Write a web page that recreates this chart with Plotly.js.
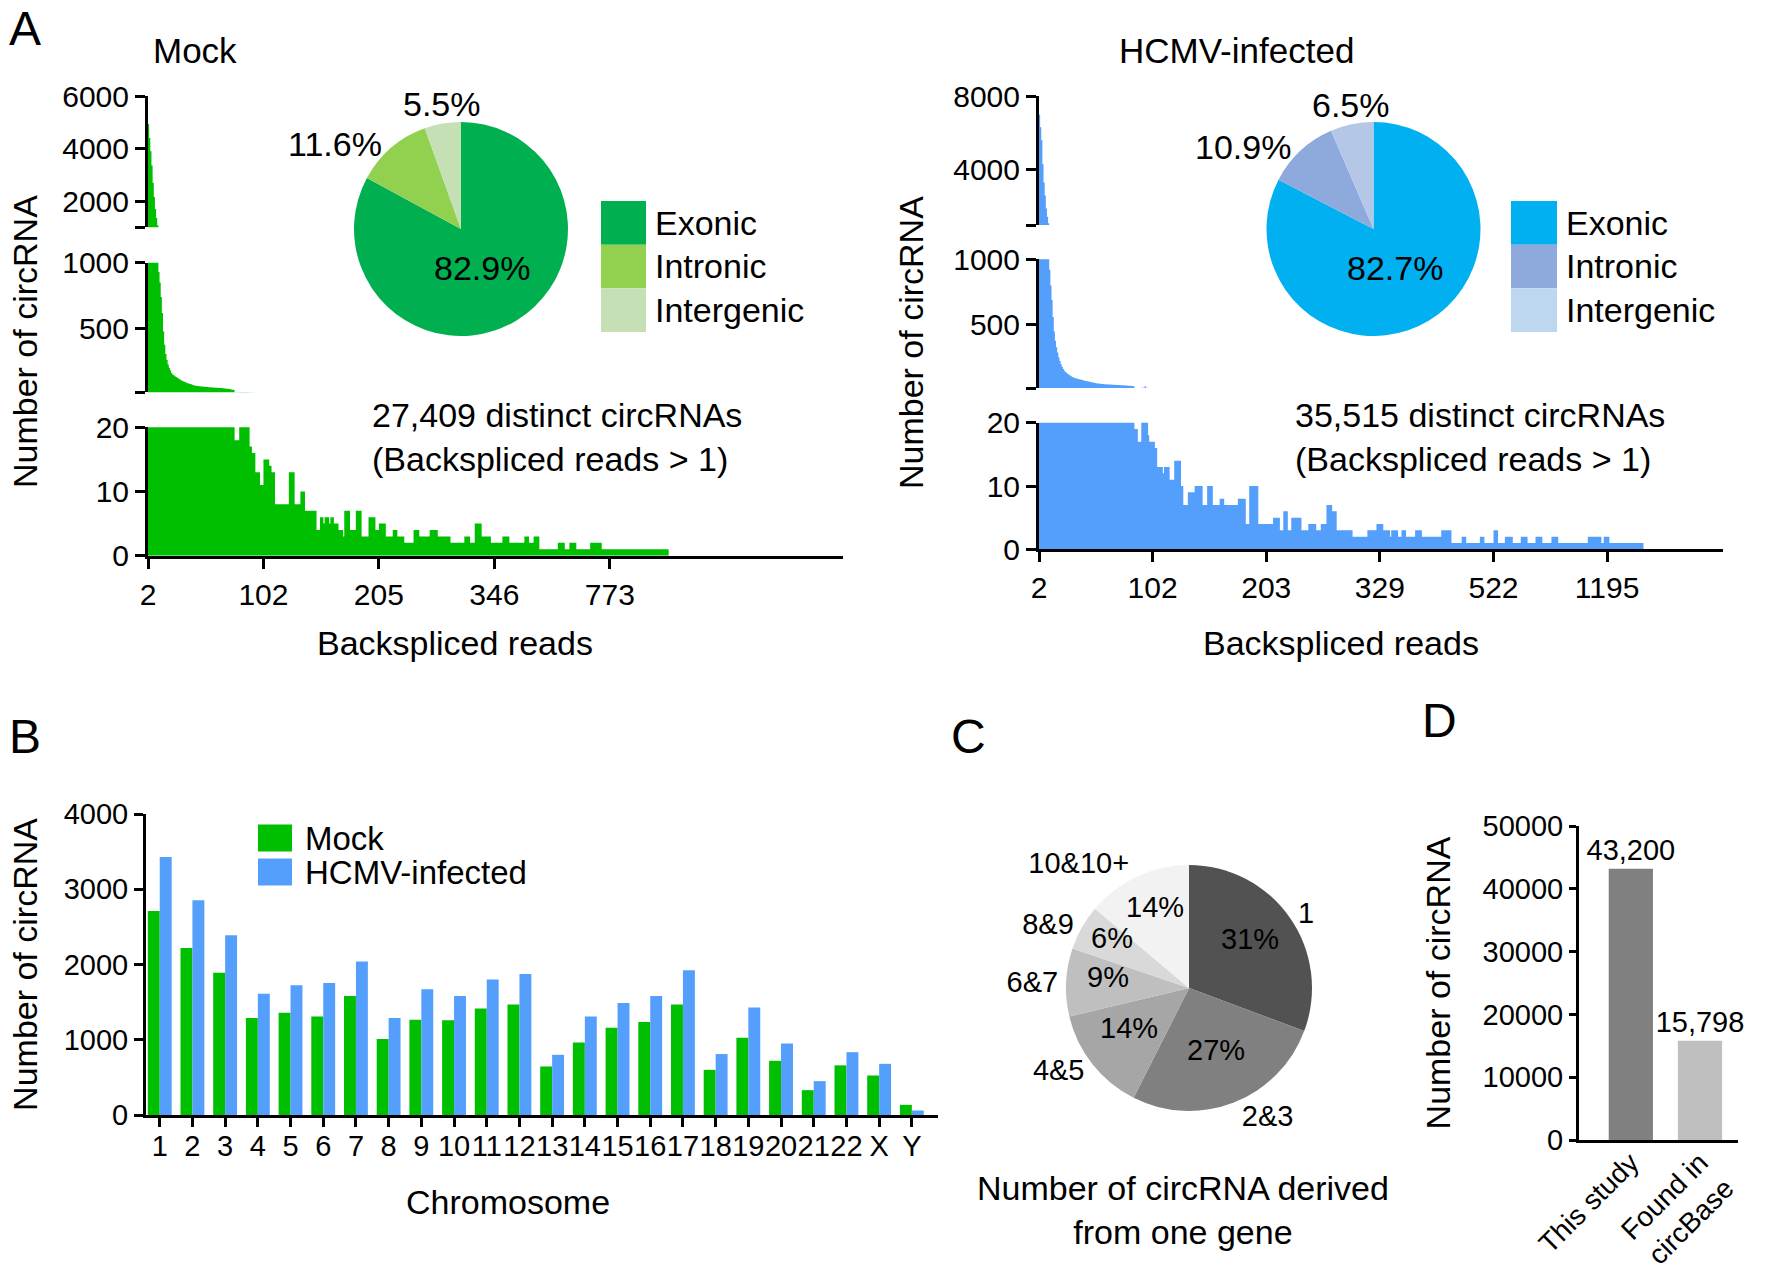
<!DOCTYPE html>
<html><head><meta charset="utf-8">
<script src="https://cdn.plot.ly/plotly-3.0.1.min.js"></script>
<style>html,body{margin:0;padding:0;background:#fff;} #chart{width:1775px;height:1272px;}</style>
</head><body><div id="chart"></div>
<script>
// ===== Panel A : histogram bins (one bin per distinct backspliced-read count, in order) =====
// Mock: first bins read one by one, then the tail as [count, number of consecutive bins]
const mockHeadCounts = [4930,4400,3900,3350,2700,2150,1700,1350,1080,930,
  850,740,620,480,380,310,265,230,205,185,165,155,148,142,136,130,124,118,113,108,
  104,100,96,92,89,86,83,80,77,74,72,70,68,67,66,65,64,63,62,62,
  61,60,59,58,58,57,57,56,55,55,54,53,52,52,51,50,49,48,47,46,45,44,42,40,38];
const mockTailRuns = [[18,4],[21,9],[17,2],[16,3],[13,4],[11,3],[15,5],[14,2],[13,3],[8,12],
  [13,5],[8,5],[10,4],[7,10],[4,3],[6,3],[5,1],[6,4],[5,1],[6,3],[5,4],[4,4],[3,1],[7,5],
  [4,5],[7,5],[3,6],[6,6],[4,3],[5,6],[3,6],[4,4],[3,6],[2,8],[4,5],[3,9],[4,7],[3,11],
  [2,12],[3,5],[2,4],[5,6],[3,8],[2,10],[3,6],[2,9],[2,4],[3,4],[2,4],[3,5],[1,16],[2,6],
  [1,4],[2,6],[1,12],[2,10],[1,58]];
const mockTickBins = [0,100,200,300,400];
const mockTickLabels = ['2','102','205','346','773'];

const hcmvHeadCounts = [7000,6300,5600,4300,3300,2600,1900,1450,1100,920,
  800,690,560,450,380,330,290,255,225,200,182,165,152,142,134,127,121,115,109,104,
  100,97,94,91,88,86,84,82,80,78,76,74,72,70,68,66,64,62,60,58,
  56,55,54,53,52,51,50,49,48,48,47,47,46,46,45,45,44,44,43,43,
  42,42,41,41,40,40,39,39,38,38,37,36,35,34];
const hcmvTailRuns = [[19,3],[17,3],[21,3],[35,1],[21,2],[18,1],[17,5],[16,2],[13,5],[12,1],
  [13,5],[11,4],[14,6],[10,2],[7,4],[9,6],[10,7],[7,4],[10,5],[7,6],[8,4],[7,12],[8,7],
  [4,3],[10,8],[4,13],[5,6],[3,3],[6,4],[3,3],[5,9],[3,6],[4,7],[3,4],[4,5],[7,5],[6,4],
  [3,14],[2,13],[3,8],[4,6],[3,6],[2,1],[3,6],[2,3],[3,4],[2,8],[3,6],[2,17],[3,9],[1,9],
  [2,4],[1,12],[2,4],[1,8],[3,4],[1,6],[2,7],[1,7],[2,6],[1,7],[2,6],[1,8],[2,6],[1,26],
  [2,12],[1,2],[2,5],[1,30]];
const hcmvTickBins = [0,100,200,300,400,500];
const hcmvTickLabels = ['2','102','203','329','522','1195'];

// pies of panel A
const regionLabels = ['Exonic','Intronic','Intergenic'];
const mockRegionPct = [82.9, 11.6, 5.5];
const hcmvRegionPct = [82.7, 10.9, 6.5];
const mockTotalText = '27,409 distinct circRNAs<br>(Backspliced reads > 1)';
const hcmvTotalText = '35,515 distinct circRNAs<br>(Backspliced reads > 1)';

// ===== Panel B : circRNAs per chromosome =====
const chromosomes = ['1','2','3','4','5','6','7','8','9','10','11','12','13','14','15','16','17','18','19','20','21','22','X','Y'];
const chrMock = [2710,2220,1890,1290,1360,1310,1580,1010,1265,1260,1415,1470,645,965,1160,1235,1470,600,1025,720,330,660,525,135];
const chrHcmv = [3430,2855,2390,1610,1725,1755,2040,1290,1670,1580,1800,1875,800,1310,1490,1580,1925,810,1430,950,450,835,680,60];

// ===== Panel C : circRNAs per gene =====
const perGeneLabels = ['1','2&3','4&5','6&7','8&9','10&10+'];
const perGenePct = [31,27,14,9,6,14];

// ===== Panel D =====
const dCategories = ['This study','Found in<br>circBase'];
const dValues = [43200, 15798];
const dValueText = ['43,200','15,798'];

// ---------- build histograms from the read values ----------
function expand(head, runs){
  const ys = head.slice();
  runs.forEach(r => { for (let k = 0; k < r[1]; k++) ys.push(r[0]); });
  return {x: ys.map((_, i) => i), y: ys};
}
const mockH = expand(mockHeadCounts, mockTailRuns);
const hcmvH = expand(hcmvHeadCounts, hcmvTailRuns);

const FONT = 'Liberation Sans, Arial, Helvetica, sans-serif';
const GREEN = '#00bf00', BLUE = '#559ffc';
const mockPieColors = ['#00b050','#92d050','#c5e0b4'];
const mockLegColors = ['#00b050','#92d050','#c5e0b4'];
const hcmvPieColors = ['#00b0f0','#8ea9db','#b4c7e7'];
const hcmvLegColors = ['#00b0f0','#8ea9db','#bdd7ee'];
const greys = ['#525252','#808080','#a6a6a6','#bfbfbf','#d9d9d9','#f2f2f2'];

const px = v => v / 1775, py = v => 1 - v / 1272;

// pie geometry (centre and radius in page pixels)
const mockPie = {cx:461, cy:229, r:107};
const hcmvPie = {cx:1373.5, cy:229, r:107};
const genePie = {cx:1189, cy:988, r:123};
const dom = p => ({x:[px(p.cx - p.r), px(p.cx + p.r)], y:[py(p.cy + p.r), py(p.cy - p.r)]});

// labels of pie slices placed at each slice's mid angle (clockwise from 12 o'clock)
function sliceLabels(pie, values, texts, rFrac, xanch, yanch, size, yshift){
  const sum = values.reduce((a, b) => a + b, 0);
  let cum = 0;
  return values.map((v, i) => {
    const th = 2 * Math.PI * (cum + v / 2) / sum; cum += v;
    const rr = rFrac[i] * pie.r;
    return {text:texts[i], x:px(pie.cx + rr * Math.sin(th)), y:py(pie.cy - rr * Math.cos(th)), yshift:yshift || 0,
      xref:'paper', yref:'paper', showarrow:false, font:{size:size}, xanchor:xanch[i], yanchor:yanch[i]};
  });
}
const pct = vals => vals.map(v => v + '%');

// histogram: one step per bin, bin i spans [i, i+1]
function hist(h, color, xa, ya){
  const xs = h.x.concat([h.x.length]);
  const ys = h.y.concat([h.y[h.y.length - 1]]);
  return {type:'scatter', mode:'lines', x:xs, y:ys, xaxis:xa, yaxis:ya, fill:'tozeroy', fillcolor:color,
          line:{shape:'hv', width:0, color:color, simplify:false}, showlegend:false, hoverinfo:'skip'};
}
function pieTrace(values, labels, colors, p){
  return {type:'pie', values:values, labels:labels, sort:false, direction:'clockwise', rotation:0,
    marker:{colors:colors, line:{width:0}}, textinfo:'none', showlegend:false, hoverinfo:'skip', domain:dom(p)};
}
const empty = (xa, ya) => ({type:'scatter', x:[], y:[], xaxis:xa, yaxis:ya, showlegend:false, hoverinfo:'skip'});

const traces = [
  hist(mockH, GREEN, 'x', 'y'), hist(mockH, GREEN, 'x', 'y2'), hist(mockH, GREEN, 'x', 'y3'),
  hist(hcmvH, BLUE, 'x2', 'y4'), hist(hcmvH, BLUE, 'x2', 'y5'), hist(hcmvH, BLUE, 'x2', 'y6'),
  empty('x', 'y12'), empty('x', 'y13'), empty('x2', 'y14'), empty('x2', 'y15'),
  pieTrace(mockRegionPct, regionLabels, mockPieColors, mockPie),
  pieTrace(hcmvRegionPct, regionLabels, hcmvPieColors, hcmvPie),
  // legend swatches A
  {type:'bar', orientation:'h', y:regionLabels, x:regionLabels.map(() => 1), width:1, xaxis:'x5', yaxis:'y9',
   marker:{color:mockLegColors, line:{width:0}}, showlegend:false, hoverinfo:'skip'},
  {type:'bar', orientation:'h', y:regionLabels, x:regionLabels.map(() => 1), width:1, xaxis:'x6', yaxis:'y10',
   marker:{color:hcmvLegColors, line:{width:0}}, showlegend:false, hoverinfo:'skip'},
  // panel B
  {type:'bar', name:'Mock', x:chromosomes, y:chrMock, xaxis:'x3', yaxis:'y7', marker:{color:GREEN, line:{width:0}}, showlegend:false, hoverinfo:'skip'},
  {type:'bar', name:'HCMV-infected', x:chromosomes, y:chrHcmv, xaxis:'x3', yaxis:'y7', marker:{color:BLUE, line:{width:0}}, showlegend:false, hoverinfo:'skip'},
  {type:'bar', orientation:'h', y:['Mock','HCMV-infected'], x:[1,1], width:0.8, xaxis:'x4', yaxis:'y8',
   marker:{color:[GREEN, BLUE], line:{width:0}}, showlegend:false, hoverinfo:'skip'},
  // panel C
  pieTrace(perGenePct, perGeneLabels, greys, genePie),
  {type:'pie', values:perGenePct, labels:perGeneLabels, sort:false, direction:'clockwise', rotation:0,
   marker:{colors:perGeneLabels.map(() => 'rgba(0,0,0,0)'), line:{width:0}}, texttemplate:'%{label}', textposition:'outside',
   textfont:{size:29, color:'#000'}, showlegend:false, hoverinfo:'skip', domain:dom(genePie)},
  // panel D
  {type:'bar', x:dCategories, y:dValues, text:dValueText, textposition:'outside', cliponaxis:false, constraintext:'none', width:0.64,
   textfont:{size:29, color:'#000'}, xaxis:'x7', yaxis:'y11', marker:{color:['#808080','#bfbfbf'], line:{width:0}},
   showlegend:false, hoverinfo:'skip'}
];

const axBase = {showline:true, linewidth:3, linecolor:'#000', ticks:'outside', ticklen:10, tickwidth:3, tickcolor:'#000',
  showgrid:false, zeroline:false, fixedrange:true, tickfont:{size:30, color:'#000'}};
function ax(o){ return Object.assign({}, axBase, o); }
const hidden = {visible:false, fixedrange:true};
// inner half of the break marks at the foot of an upper axis segment
function breakMark(over, anchor, range, val){
  return {overlaying:over, anchor:anchor, side:'left', range:range, tickmode:'array', tickvals:[val], showticklabels:false,
    ticks:'inside', ticklen:10, tickwidth:3, tickcolor:'#000', showline:false, showgrid:false, zeroline:false, fixedrange:true};
}
function legendAxis(domain, anchor, cats, standoff, size){
  return {domain:domain, anchor:anchor, type:'category', autorange:'reversed', side:'right', showline:false, ticks:'',
    tickmode:'array', tickvals:cats, ticktext:cats, showgrid:false, zeroline:false, fixedrange:true,
    tickfont:{size:size, color:'#000'}, ticklabelstandoff:standoff};
}
function note(text, x, y, o){
  return Object.assign({text:text, x:px(x), y:py(y), xref:'paper', yref:'paper', showarrow:false, font:{size:34},
    xanchor:'center', yanchor:'middle'}, o || {});
}

const annotations = [
  note('A', 25, 0, {font:{size:48}, yanchor:'top'}),
  note('B', 25, 708, {font:{size:48}, yanchor:'top'}),
  note('C', 969, 708, {font:{size:48}, yanchor:'top'}),
  note('D', 1439, 692, {font:{size:48}, yanchor:'top'}),
  note('Mock', 195, 50, {font:{size:35}}),
  note('HCMV-infected', 1236, 50, {font:{size:35}}),
  note('Number of circRNA', 25, 342, {textangle:-90}),
  note('Number of circRNA', 911, 342, {textangle:-90}),
  note('Backspliced reads', 455, 643),
  note('Backspliced reads', 1341, 643),
  note(mockTotalText, 370, 437, {align:'left', xanchor:'left'}),
  note(hcmvTotalText, 1293, 437, {align:'left', xanchor:'left'}),
  note('Chromosome', 508, 1202),
  note('Number of circRNA derived<br>from one gene', 1183, 1210)
].concat(
  sliceLabels(mockPie, mockRegionPct, pct(mockRegionPct), [0.38, 1.1, 1.02], ['center','right','center'], ['middle','middle','bottom'], 34, -4),
  sliceLabels(hcmvPie, hcmvRegionPct, pct(hcmvRegionPct), [0.38, 1.1, 1.02], ['center','right','center'], ['middle','middle','bottom'], 34, -4),
  sliceLabels(genePie, perGenePct, pct(perGenePct), [0.6, 0.6, 0.62, 0.66, 0.72, 0.66], perGenePct.map(() => 'center'), perGenePct.map(() => 'middle'), 29, 7)
);

const layout = {
  width:1775, height:1272, margin:{l:0, r:0, t:0, b:0}, paper_bgcolor:'#fff', plot_bgcolor:'rgba(0,0,0,0)',
  font:{family:FONT, size:34, color:'#000'}, bargap:0.27, bargroupgap:0, barmode:'group', showlegend:false,
  // Mock histogram
  xaxis: ax({domain:[px(148), px(843)], range:[0, 602], anchor:'y', tickmode:'array', tickvals:mockTickBins, ticktext:mockTickLabels}),
  yaxis: ax({domain:[py(555.7), py(427.3)], range:[0,20], anchor:'x', tickvals:[0,10,20]}),
  yaxis2: ax({domain:[py(392.3), py(262.7)], range:[20,1000], anchor:'x', tickvals:[20,500,1000], ticktext:['','500','1000']}),
  yaxis3: ax({domain:[py(227.3), py(96)], range:[1000,6000], anchor:'x', tickvals:[1000,2000,4000,6000], ticktext:['','2000','4000','6000']}),
  yaxis12: breakMark('y2', 'x', [20,1000], 20),
  yaxis13: breakMark('y3', 'x', [1000,6000], 1000),
  // HCMV histogram
  xaxis2: ax({domain:[px(1039), px(1723)], range:[0, 602], anchor:'y4', tickmode:'array', tickvals:hcmvTickBins, ticktext:hcmvTickLabels}),
  yaxis4: ax({domain:[py(549.3), py(422.7)], range:[0,20], anchor:'x2', tickvals:[0,10,20]}),
  yaxis5: ax({domain:[py(388), py(259.3)], range:[20,1000], anchor:'x2', tickvals:[20,500,1000], ticktext:['','500','1000']}),
  yaxis6: ax({domain:[py(225), py(96)], range:[1000,8000], anchor:'x2', tickvals:[1000,4000,8000], ticktext:['','4000','8000']}),
  yaxis14: breakMark('y5', 'x2', [20,1000], 20),
  yaxis15: breakMark('y6', 'x2', [1000,8000], 1000),
  // panel B
  xaxis3: ax({domain:[px(146), px(938)], range:[-0.42, 23.8], anchor:'y7', type:'category', tickmode:'array', tickvals:chromosomes, ticktext:chromosomes,
    tickangle:0, tickfont:{size:29, color:'#000'}, ticklen:9, ticklabelstandoff:-6}),
  yaxis7: ax({domain:[py(1115), py(814)], range:[0,4000], anchor:'x3', dtick:1000, tickfont:{size:29, color:'#000'}, ticklen:9,
    title:{text:'Number of circRNA', font:{size:34}, standoff:16}}),
  xaxis4: Object.assign({domain:[px(258), px(292)], range:[0,1], anchor:'y8'}, hidden),
  yaxis8: legendAxis([py(889), py(821)], 'x4', ['Mock','HCMV-infected'], 12, 33),
  // legends of A
  xaxis5: Object.assign({domain:[px(601), px(646)], range:[0,1], anchor:'y9'}, hidden),
  yaxis9: legendAxis([py(332), py(201)], 'x5', regionLabels, 8, 34),
  xaxis6: Object.assign({domain:[px(1511), px(1557)], range:[0,1], anchor:'y10'}, hidden),
  yaxis10: legendAxis([py(332), py(201)], 'x6', regionLabels, 8, 34),
  // panel D
  xaxis7: ax({domain:[px(1579), px(1738)], range:[-0.75, 1.55], anchor:'y11', type:'category', ticks:'', tickangle:-45,
    tickfont:{size:28, color:'#000'}, ticklabelstandoff:-8}),
  yaxis11: ax({domain:[py(1140), py(826)], range:[0,50000], anchor:'x7', dtick:10000, tickformat:'d', ticklen:7, tickfont:{size:29, color:'#000'},
    title:{text:'Number of circRNA', font:{size:34}, standoff:22}}),
  annotations: annotations
};

Plotly.newPlot('chart', traces, layout, {displayModeBar:false, staticPlot:true});
</script>
</body></html>
